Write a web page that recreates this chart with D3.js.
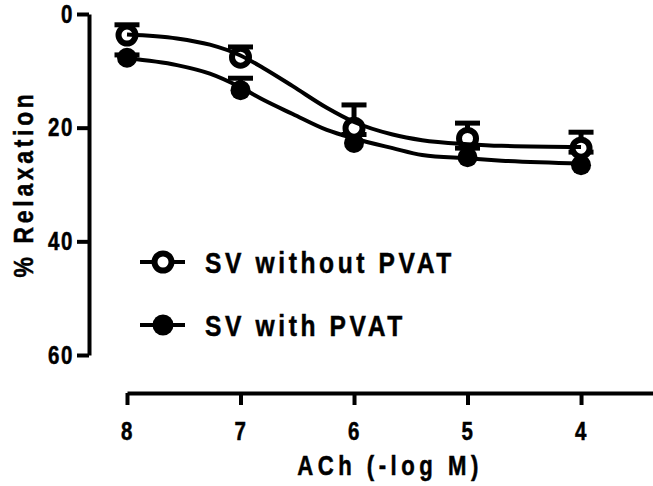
<!DOCTYPE html>
<html>
<head>
<meta charset="utf-8">
<script src="https://cdn.jsdelivr.net/npm/d3@7"></script>
<style>
  html, body { margin: 0; padding: 0; background: #fff; }
  svg { display: block; }
  text { font-family: "Liberation Sans", Arial, Helvetica, sans-serif; font-weight: bold; fill: #000; stroke: #000; stroke-width: 0.5px; }
</style>
</head>
<body>
<div id="chart"></div>
<script>
// ── Data ────────────────────────────────────────────────────────────────────
const doses = [8, 7, 6, 5, 4];                    // ACh, -log M
const meanWithout = [3.7, 7.6, 20.1, 21.9, 23.6]; // SV without PVAT
const semWithout  = [1.8, 1.8, 4.1, 2.7, 2.8];
const meanWith    = [7.7, 13.4, 22.7, 25.2, 26.6]; // SV with PVAT
const semWith     = [0.5, 2.1, 1.5, 1.6, 2.3];

// fitted curves
const fitDose    = [8, 7.56, 7.27, 7, 6.8, 6.54, 6.24, 6, 5.66, 5.4, 5, 4.7, 4];
const fitWithout = [3.6, 4.3, 5.4, 7.3, 9.5, 12.7, 16.5, 19.0, 21.2, 22.2, 22.9, 23.2, 23.4];
const fitWith    = [7.8, 9.0, 10.5, 12.9, 15.1, 17.6, 20.4, 21.9, 23.6, 24.8, 25.4, 25.8, 26.3];

const yTicks = [0, 20, 40, 60];
const seriesNames = ['SV without PVAT', 'SV with PVAT'];

const W = 653, H = 486;
const SQ = 0.82; // horizontal squeeze: the original uses a condensed bold face

const svg = d3.select('#chart').append('svg')
  .attr('width', W)
  .attr('height', H);

// Scales
const x = d3.scaleLinear().domain([8, 3.366]).range([127, 653]);
const y = d3.scaleLinear().domain([0, 60]).range([14, 355]);

function squeeze(sel) {
  sel.each(function () {
    const t = d3.select(this);
    const tx = +t.attr('x') || 0;
    t.attr('x', tx / SQ)
      .attr('transform', (t.attr('transform') || '') + ` scale(${SQ},1)`);
  });
}

// ── Axes ────────────────────────────────────────────────────────────────────
const gx = svg.append('g')
  .attr('transform', `translate(0,393)`)
  .call(d3.axisBottom(x).tickValues(doses).tickSize(12).tickSizeOuter(0).tickPadding(17)
    .tickFormat(d3.format('d')));

const gy = svg.append('g')
  .attr('transform', `translate(89,0)`)
  .call(d3.axisLeft(y).tickValues(yTicks).tickSize(12).tickSizeOuter(0).tickPadding(3));

[gx, gy].forEach(g => {
  g.select('.domain').attr('stroke', '#000').attr('stroke-width', 4);
  g.selectAll('.tick line').attr('stroke', '#000').attr('stroke-width', 4);
  g.selectAll('.tick text')
    .attr('font-size', 25)
    .attr('font-family', null)
    .attr('fill', '#000')
    .style('letter-spacing', '2px')
    .call(squeeze);
});

svg.append('text')
  .attr('x', 390)
  .attr('y', 475)
  .attr('text-anchor', 'middle')
  .attr('font-size', 27)
  .style('letter-spacing', '5.5px')
  .text('ACh (-log M)')
  .call(squeeze);

svg.append('text')
  .attr('transform', 'translate(33,184) rotate(-90)')
  .attr('text-anchor', 'middle')
  .attr('font-size', 28)
  .style('letter-spacing', '4.5px')
  .text('% Relaxation')
  .call(squeeze);

// ── Error bars (upward only) ────────────────────────────────────────────────
function errorBars(means, sems) {
  const g = svg.append('g');
  doses.forEach((d, i) => {
    const cx = x(d), y0 = y(means[i]), y1 = y(means[i] - sems[i]);
    g.append('line')
      .attr('x1', cx).attr('x2', cx).attr('y1', y0).attr('y2', y1)
      .attr('stroke', '#000').attr('stroke-width', 5);
    g.append('line')
      .attr('x1', cx - 12.5).attr('x2', cx + 12.5).attr('y1', y1).attr('y2', y1)
      .attr('stroke', '#000').attr('stroke-width', 5);
  });
}

errorBars(meanWith, semWith);
errorBars(meanWithout, semWithout);

// ── Markers ─────────────────────────────────────────────────────────────────
svg.append('g').selectAll('circle')
  .data(doses)
  .join('circle')
  .attr('cx', d => x(d))
  .attr('cy', (d, i) => y(meanWith[i]))
  .attr('r', 10)
  .attr('fill', '#000');

svg.append('g').selectAll('circle')
  .data(doses)
  .join('circle')
  .attr('cx', d => x(d))
  .attr('cy', (d, i) => y(meanWithout[i]))
  .attr('r', 8.5)
  .attr('fill', '#fff')
  .attr('stroke', '#000')
  .attr('stroke-width', 6);

// ── Fitted curves ───────────────────────────────────────────────────────────
const line = d3.line()
  .x(d => x(d[0]))
  .y(d => y(d[1]))
  .curve(d3.curveMonotoneX);

[fitWithout, fitWith].forEach(vals => {
  svg.append('path')
    .datum(fitDose.map((d, i) => [d, vals[i]]))
    .attr('d', line)
    .attr('fill', 'none')
    .attr('stroke', '#000')
    .attr('stroke-width', 4);
});

// ── Legend ──────────────────────────────────────────────────────────────────
const legend = svg.append('g');
seriesNames.forEach((name, i) => {
  const ly = 262 + i * 63;
  legend.append('line')
    .attr('x1', 140).attr('x2', 185).attr('y1', ly).attr('y2', ly)
    .attr('stroke', '#000').attr('stroke-width', 4);
  if (i === 0) {
    legend.append('circle')
      .attr('cx', 163).attr('cy', ly).attr('r', 8.5)
      .attr('fill', '#fff').attr('stroke', '#000').attr('stroke-width', 6);
  } else {
    legend.append('circle')
      .attr('cx', 163).attr('cy', ly).attr('r', 10.5)
      .attr('fill', '#000');
  }
  legend.append('text')
    .attr('x', 205)
    .attr('y', ly + 11)
    .attr('font-size', 30)
    .style('letter-spacing', '4.4px')
    .text(name)
    .call(squeeze);
});
</script>
</body>
</html>
